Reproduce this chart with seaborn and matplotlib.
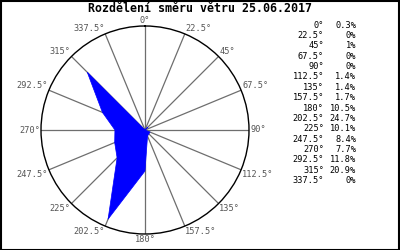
import numpy as np
import matplotlib
matplotlib.use("Agg")
import matplotlib.pyplot as plt
import seaborn as sns
import pandas as pd
from matplotlib.patches import Rectangle

directions = [0, 22.5, 45, 67.5, 90, 112.5, 135, 157.5, 180, 202.5, 225, 247.5, 270, 292.5, 315, 337.5]
dir_labels = ["0°", "22.5°", "45°", "67.5°", "90°", "112.5°", "135°", "157.5°",
              "180°", "202.5°", "225°", "247.5°", "270°", "292.5°", "315°", "337.5°"]
percent = [0.3, 0, 1, 0, 0, 1.4, 1.4, 1.7, 10.5, 24.7, 10.1, 8.4, 7.7, 11.8, 20.9, 0]
pct_labels = ["0.3%", "0%", "1%", "0%", "0%", "1.4%", "1.4%", "1.7%", "10.5%", "24.7%",
              "10.1%", "8.4%", "7.7%", "11.8%", "20.9%", "0%"]
title = "Rozdělení směru větru 25.06.2017"

sns.set_style("white")
plt.rcParams['font.family'] = ['DejaVu Sans Mono', 'DejaVu Sans']

W, H = 400, 250
fig = plt.figure(figsize=(4, 2.5), dpi=100)
cx, cy, R = 145, 130, 104
ax = fig.add_axes([(cx - R) / W, (H - cy - R) / H, 2 * R / W, 2 * R / H], projection='polar')
ax.set_theta_zero_location('N')
ax.set_theta_direction(-1)
rmax = max(percent) * 1.078
ax.set_ylim(0, rmax)
ax.set_yticks([])
ax.set_xticks([])
ax.grid(False)
ax.set_facecolor('white')
ax.spines['polar'].set_color('black')
ax.spines['polar'].set_linewidth(1.0)

df = pd.DataFrame({"theta": np.deg2rad(directions + [directions[0]]),
                   "r": percent + [percent[0]]})
ax.fill(df["theta"], df["r"], color='#0000ff', lw=0, zorder=2)
sns.lineplot(data=df, x="theta", y="r", sort=False, color='#0000ff', lw=0.5, ax=ax, zorder=2)
ax.set_xlabel("")
ax.set_ylabel("")

for d, lab in zip(directions, dir_labels):
    t = np.deg2rad(d)
    ax.plot([t, t], [0, rmax], color='#6e6e6e', lw=0.9, zorder=1)
    s, c = np.sin(t), np.cos(t)
    ha = 'center' if abs(s) < 1e-6 else ('left' if s > 0 else 'right')
    va = 'center' if abs(c) < 1e-6 else ('bottom' if c > 0 else 'top')
    ax.text(t, rmax * 1.01, lab, ha=ha, va=va, fontsize=6.2, color='#555555',
            clip_on=False)

ax.set_ylim(0, rmax)

fig.text(200 / W, 1 - 9 / H, title, ha='center', va='center', fontsize=8.4,
         fontweight='bold', color='black')

for i, (dl, pl) in enumerate(zip(dir_labels, pct_labels)):
    y = 1 - (25 + i * 10.38) / H
    fig.text(324 / W, y, dl, ha='right', va='center', fontsize=6.2, color='black')
    fig.text(356 / W, y, pl, ha='right', va='center', fontsize=6.2, color='black')

fig.patches.append(Rectangle((0.5 / W, 0.5 / H), 1 - 1.5 / W, 1 - 1.5 / H,
                             transform=fig.transFigure, fill=False, ec='black', lw=1.5))

fig.savefig("out.png", dpi=100, facecolor='white')
